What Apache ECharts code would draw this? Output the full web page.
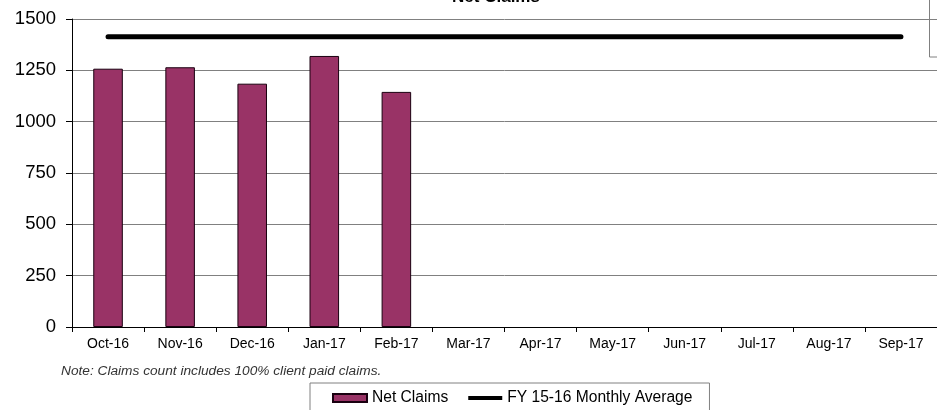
<!DOCTYPE html>
<html>
<head>
<meta charset="utf-8">
<script src="https://cdn.jsdelivr.net/npm/echarts@6/dist/echarts.min.js"></script>
<style>html,body{margin:0;padding:0;background:#fff}#c{width:937px;height:410px}</style>
</head>
<body>
<div id="c"></div>
<script>
const categories = ['Oct-16','Nov-16','Dec-16','Jan-17','Feb-17','Mar-17','Apr-17','May-17','Jun-17','Jul-17','Aug-17','Sep-17'];
const netClaims = [1258, 1265, 1185, 1320, 1145, null, null, null, null, null, null, null];
const fyAverage = [1413, 1413, 1413, 1413, 1413, 1413, 1413, 1413, 1413, 1413, 1413, 1413];
const yTicks = [0, 250, 500, 750, 1000, 1250, 1500];
const noteText = 'Note: Claims count includes 100% client paid claims.';
const titleText = 'Net Claims';

const chart = echarts.init(document.getElementById('c'), null, {renderer: 'canvas'});
chart.setOption({
  animation: false,
  backgroundColor: '#ffffff',
  grid: {left: 72, right: -9, top: 19, bottom: 83, containLabel: false},
  xAxis: {
    type: 'category',
    data: categories,
    boundaryGap: true,
    axisLine: {lineStyle: {color: '#000', width: 1}},
    axisTick: {show: true, length: 5, lineStyle: {color: '#000'}},
    axisLabel: {color: '#000', fontFamily: 'Liberation Sans, Arial', fontSize: 14, margin: 10}
  },
  yAxis: {
    type: 'value',
    min: yTicks[0],
    max: yTicks[yTicks.length - 1],
    interval: 250,
    axisLine: {show: true, lineStyle: {color: '#000', width: 1}},
    axisTick: {show: true, length: 6, lineStyle: {color: '#000'}},
    axisLabel: {color: '#000', fontFamily: 'Liberation Sans, Arial', fontSize: 18.5, margin: 16,
      formatter: function (v) { return String(v); }},
    splitLine: {show: true, lineStyle: {color: '#808080', width: 1}}
  },
  legend: {
    left: 310,
    top: 383,
    padding: [7, 17, 12, 22],
    itemGap: 20,
    itemWidth: 34,
    itemHeight: 8,
    borderColor: '#808080',
    borderWidth: 1,
    backgroundColor: '#fff',
    textStyle: {color: '#000', fontFamily: 'Liberation Sans, Arial', fontSize: 15.6},
    data: [
      {name: 'Net Claims', icon: 'rect'},
      {name: 'FY 15-16 Monthly Average', icon: 'path://M0,0 M0,8 M0,2 L34,2 L34,6 L0,6 Z'}
    ]
  },
  series: [
    {
      name: 'Net Claims',
      type: 'bar',
      data: netClaims,
      barWidth: '41%',
      itemStyle: {color: '#993366', borderColor: '#1a0010', borderWidth: 1}
    },
    {
      name: 'FY 15-16 Monthly Average',
      type: 'line',
      data: fyAverage,
      symbol: 'none',
      showSymbol: false,
      lineStyle: {color: '#000', width: 5, cap: 'round'},
      itemStyle: {color: '#000'}
    }
  ],
  graphic: [
    {type: 'text', left: 61, top: 364, style: {text: noteText, fill: '#333', font: 'italic 13.7px "Liberation Sans", Arial'}},
    {type: 'text', x: 496, y: 5.5, style: {text: titleText, fill: '#000', font: 'bold 17px "Liberation Sans", Arial', align: 'center', verticalAlign: 'bottom'}},
    {type: 'rect', shape: {x: 929.5, y: -10, width: 20, height: 67}, style: {fill: 'none', stroke: '#808080', lineWidth: 1}}
  ]
});
</script>
</body>
</html>
